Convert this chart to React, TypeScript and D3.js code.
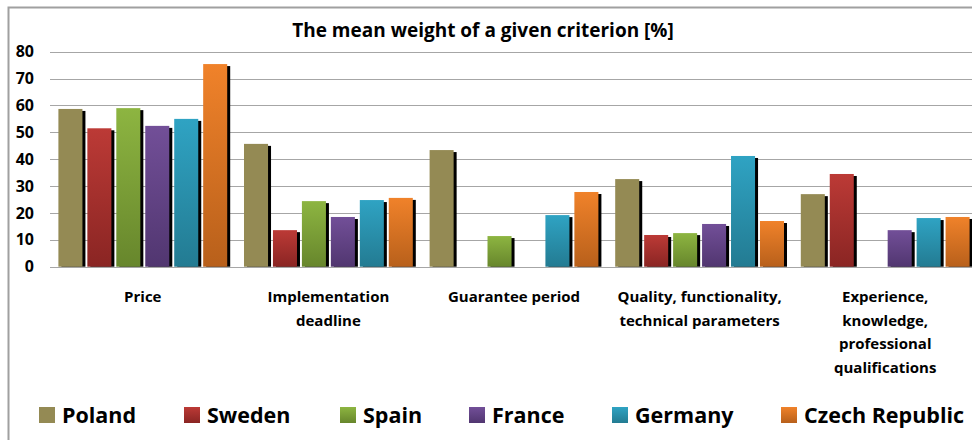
import React from 'react';
import * as d3 from 'd3';

const categories = [
  'Price',
  'Implementation deadline',
  'Guarantee period',
  'Quality, functionality, technical parameters',
  'Experience, knowledge, professional qualifications',
];
const categoryLines = [
  ['Price'],
  ['Implementation', 'deadline'],
  ['Guarantee period'],
  ['Quality, functionality,', 'technical parameters'],
  ['Experience,', 'knowledge,', 'professional', 'qualifications'],
];
const countries = ['Poland', 'Sweden', 'Spain', 'France', 'Germany', 'Czech Republic'];
// one value per category, null = no bar
const poland = [58.7, 45.7, 43.4, 32.6, 27.0];
const sweden = [51.5, 13.6, null, 11.8, 34.5];
const spain = [59.0, 24.4, 11.4, 12.5, null];
const france = [52.4, 18.5, null, 15.9, 13.6];
const germany = [55.0, 24.8, 19.2, 41.2, 18.1];
const czech = [75.4, 25.6, 27.8, 17.0, 18.5];
const yTicks = [0, 10, 20, 30, 40, 50, 60, 70, 80];

const seriesValues = [poland, sweden, spain, france, germany, czech];
// top / bottom colour of each bar gradient
const colors = [
  ['#948A54', '#948A54'],
  ['#BC3A36', '#8A2523'],
  ['#8DB541', '#67862C'],
  ['#724F98', '#513670'],
  ['#2FA3C3', '#237B92'],
  ['#F0822A', '#B8601B'],
];

const font = '"Open Sans", sans-serif';

export default function App() {
  const width = 972;
  const height = 440;

  const x0 = d3.scaleBand<string>().domain(categories).range([50, 978]);
  const x1 = d3
    .scaleBand<string>()
    .domain(countries)
    .range([0, x0.bandwidth()])
    .paddingInner(0.17)
    .paddingOuter(0.29);
  const y = d3.scaleLinear().domain([0, 80]).range([266.7, 51.7]);

  const legendX = [39, 184, 340, 469, 612, 781];

  return (
    <svg width={width} height={height} style={{ position: 'absolute', left: 0, top: 0 }}>
      <defs>
        {colors.map((c, i) => (
          <linearGradient key={i} id={'g' + i} x1="0" y1="0" x2="0" y2="1">
            <stop offset="0%" stopColor={c[0]} />
            <stop offset="100%" stopColor={c[1]} />
          </linearGradient>
        ))}
      </defs>
      <rect x={0} y={0} width={width} height={height} fill="#fff" />
      <path d="M8.5,440 V7.5 H972" fill="none" stroke="#a0a0a0" strokeWidth={2} />

      <text x={483} y={37} textAnchor="middle" fontFamily={font} fontWeight="bold" fontSize={19}>
        The mean weight of a given criterion [%]
      </text>

      {yTicks.map((t) => (
        <g key={t}>
          <line x1={50} x2={972} y1={Math.round(y(t)) + 0.5} y2={Math.round(y(t)) + 0.5} stroke="#a6a6a6" strokeWidth={1.2} />
          <text x={34} y={y(t)} dy="0.35em" textAnchor="end" fontFamily={font} fontWeight="bold" fontSize={16}>
            {t}
          </text>
        </g>
      ))}

      {categories.map((c, ci) => (
        <g key={c}>
          {seriesValues.map((vals, si) => {
            const v = vals[ci];
            if (v == null) return null;
            const bx = (x0(c) as number) + (x1(countries[si]) as number);
            const bw = x1.bandwidth();
            const top = y(v);
            const h = y(0) - top;
            return (
              <g key={si}>
                <rect x={bx + 3} y={top + 2} width={bw} height={h - 2} fill="#000" />
                <rect x={bx} y={top} width={bw} height={h} fill={`url(#g${si})`} />
              </g>
            );
          })}
          <text textAnchor="middle" fontFamily={font} fontWeight="bold" fontSize={15}>
            {categoryLines[ci].map((line, li) => (
              <tspan key={li} x={(x0(c) as number) + x0.bandwidth() / 2} y={302 + li * 23.5}>
                {line}
              </tspan>
            ))}
          </text>
        </g>
      ))}

      {countries.map((name, i) => (
        <g key={name}>
          <rect x={legendX[i]} y={407} width={16} height={16} fill={`url(#g${i})`} />
          <text x={legendX[i] + 23} y={415} dy="0.36em" fontFamily={font} fontWeight="bold" fontSize={21.5}>
            {name}
          </text>
        </g>
      ))}
    </svg>
  );
}
